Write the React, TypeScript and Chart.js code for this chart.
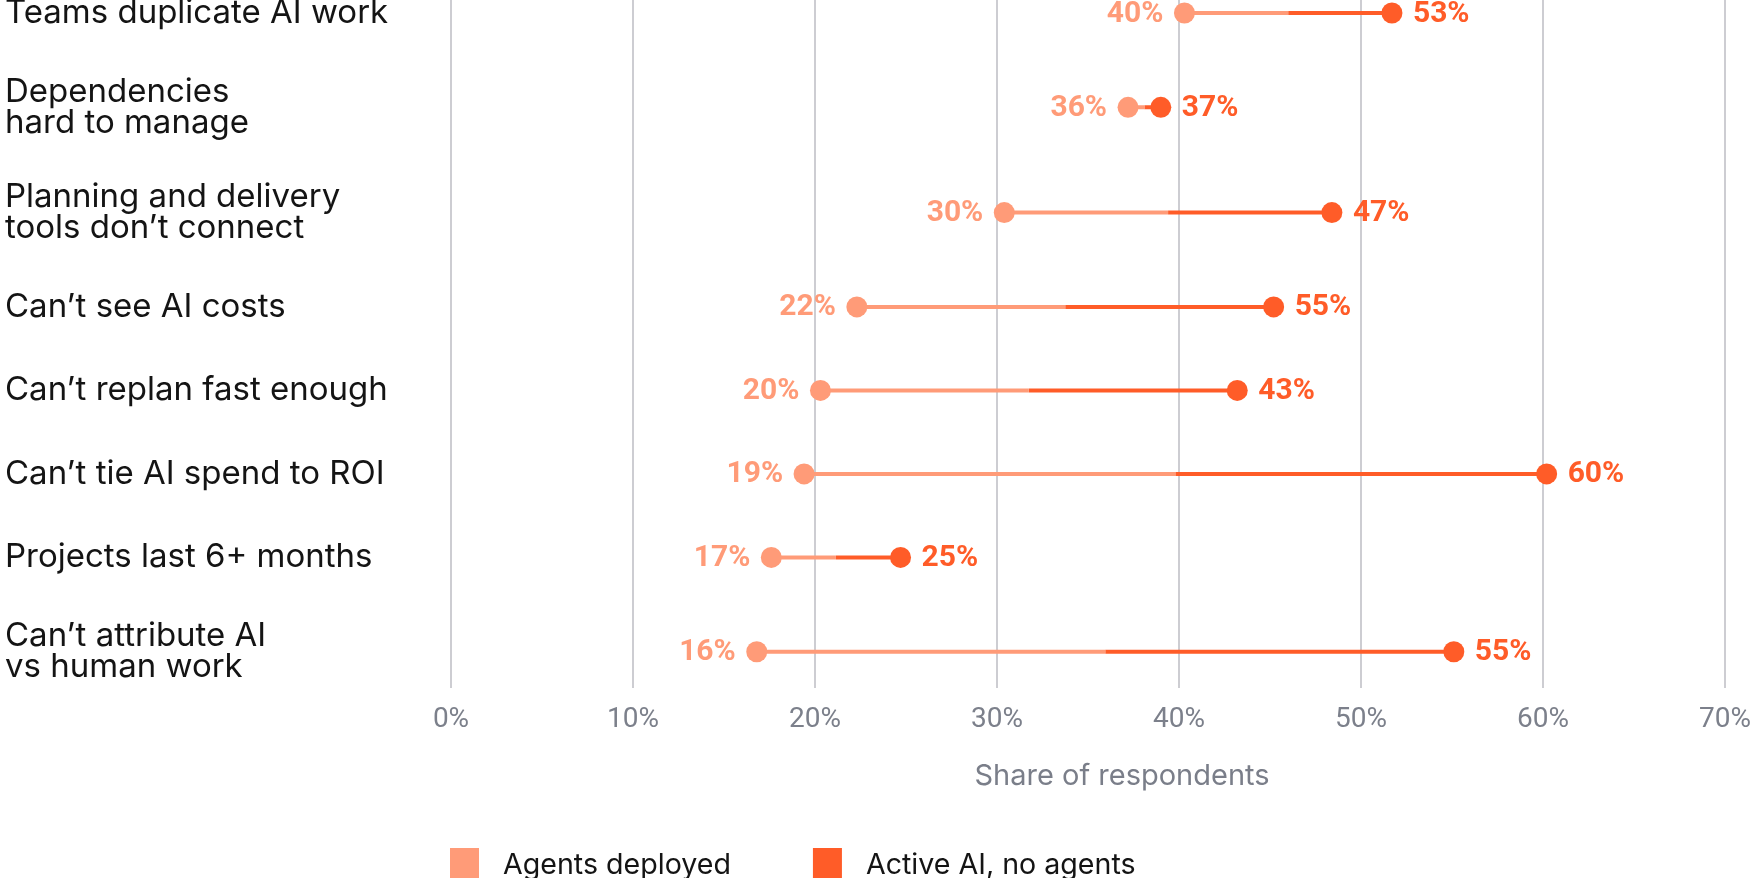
import { useEffect, useRef } from "react";
import { Chart, registerables } from "chart.js";
import type { Plugin } from "chart.js";

Chart.register(...registerables);

const categories: (string | string[])[] = [
  "Teams duplicate AI work",
  ["Dependencies", "hard to manage"],
  ["Planning and delivery", "tools don’t connect"],
  "Can’t see AI costs",
  "Can’t replan fast enough",
  "Can’t tie AI spend to ROI",
  "Projects last 6+ months",
  ["Can’t attribute AI", "vs human work"],
];

// where the dots sit on the axis (share of respondents, %)
const agentsDeployed = [40.3, 37.2, 30.4, 22.3, 20.3, 19.4, 17.6, 16.8];
const activeNoAgents = [51.7, 39.0, 48.4, 45.2, 43.2, 60.2, 24.7, 55.1];

// the percentages printed beside the dots
const agentsLabels = [40, 36, 30, 22, 20, 19, 17, 16];
const activeLabels = [53, 37, 47, 55, 43, 60, 25, 55];

const xTicks = [0, 10, 20, 30, 40, 50, 60, 70];
const seriesNames = ["Agents deployed", "Active AI, no agents"];
const axisTitle = "Share of respondents";

const LIGHT = "#FF9B78";
const DARK = "#FF5C28";
const GREY = "#7A7E89";
const INK = "#141414";

// rows with two-line labels get a little more room
const lineCount = categories.map((c) => (Array.isArray(c) ? c.length : 1));
const rowPos: number[] = [];
lineCount.forEach((n, i) => {
  rowPos.push(i === 0 ? 0 : rowPos[i - 1] + 1 + 0.13 * (lineCount[i - 1] - 1 + n - 1));
});

const gap = { x: NaN, y: NaN };
const mids = agentsDeployed.map((a, i) => (a + activeNoAgents[i]) / 2);
const lightHalf = rowPos.flatMap((y, i) => [{ x: agentsDeployed[i], y }, { x: mids[i], y }, gap]);
const darkHalf = rowPos.flatMap((y, i) => [{ x: mids[i], y }, { x: activeNoAgents[i], y }, gap]);

const valueLabels: Plugin<"scatter"> = {
  id: "valueLabels",
  afterDatasetsDraw(chart) {
    const ctx = chart.ctx;
    ctx.save();
    ctx.font = "bold 30px Roboto";
    ctx.textBaseline = "middle";
    chart.getDatasetMeta(2).data.forEach((pt, i) => {
      ctx.fillStyle = LIGHT;
      ctx.textAlign = "right";
      ctx.fillText(`${agentsLabels[i]}%`, pt.x - 21, pt.y + 1);
    });
    chart.getDatasetMeta(3).data.forEach((pt, i) => {
      ctx.fillStyle = DARK;
      ctx.textAlign = "left";
      ctx.fillText(`${activeLabels[i]}%`, pt.x + 21, pt.y + 1);
    });
    ctx.restore();
  },
};

const titleAndLegend: Plugin<"scatter"> = {
  id: "titleAndLegend",
  afterDraw(chart) {
    const { ctx, chartArea } = chart;
    ctx.save();
    ctx.textBaseline = "alphabetic";

    ctx.font = "29px Inter";
    ctx.fillStyle = GREY;
    ctx.textAlign = "center";
    ctx.fillText(axisTitle, (chartArea.left + chartArea.right) / 2 + 34, chartArea.bottom + 97);

    ctx.font = "28.6px Inter";
    ctx.textAlign = "left";
    let x = chartArea.left - 1;
    const top = chart.height - 30;
    [LIGHT, DARK].forEach((color, i) => {
      ctx.fillStyle = color;
      ctx.fillRect(x, top, 29, 30);
      ctx.fillStyle = INK;
      ctx.fillText(seriesNames[i], x + 53, top + 26);
      x += 53 + ctx.measureText(seriesNames[i]).width + 82;
    });
    ctx.restore();
  },
};

export default function App() {
  const canvasRef = useRef<HTMLCanvasElement>(null);

  useEffect(() => {
    document.body.style.margin = "0";
    if (!canvasRef.current) return;
    Chart.defaults.font.family = "Inter";

    const chart = new Chart(canvasRef.current, {
      type: "scatter",
      data: {
        datasets: [
          {
            data: lightHalf,
            showLine: true,
            borderColor: LIGHT,
            borderWidth: 4,
            borderCapStyle: "butt",
            pointRadius: 0,
            order: 1,
          },
          {
            data: darkHalf,
            showLine: true,
            borderColor: DARK,
            borderWidth: 4,
            borderCapStyle: "butt",
            pointRadius: 0,
            order: 1,
          },
          {
            label: seriesNames[0],
            data: rowPos.map((y, i) => ({ x: agentsDeployed[i], y })),
            backgroundColor: LIGHT,
            borderWidth: 0,
            pointRadius: 10.5,
            order: 0,
          },
          {
            label: seriesNames[1],
            data: rowPos.map((y, i) => ({ x: activeNoAgents[i], y })),
            backgroundColor: DARK,
            borderWidth: 0,
            pointRadius: 10.5,
            order: 0,
          },
        ],
      },
      options: {
        animation: false,
        responsive: true,
        maintainAspectRatio: false,
        events: [],
        layout: { autoPadding: false, padding: { left: 5, right: 25, top: 0, bottom: 85 } },
        plugins: {
          legend: { display: false },
          tooltip: { enabled: false },
        },
        scales: {
          x: {
            type: "linear",
            min: 0,
            max: 70,
            afterBuildTicks: (scale) => {
              scale.ticks = xTicks.map((value) => ({ value }));
            },
            afterFit: (scale) => {
              scale.height = 105;
              scale.paddingLeft = 0;
              scale.paddingRight = 0;
            },
            grid: { color: "#CDCDD2", lineWidth: 2, drawTicks: false },
            border: { display: false },
            ticks: {
              padding: 15,
              maxRotation: 0,
              color: "#7C808B",
              font: { family: "'Liberation Sans Narrow', Roboto", size: 28, weight: 400 },
              callback: (v) => `${v}%`,
            },
          },
          y: {
            type: "linear",
            reverse: true,
            min: -0.156,
            max: rowPos[rowPos.length - 1] + 0.434,
            afterBuildTicks: (scale) => {
              scale.ticks = rowPos.map((value) => ({ value }));
            },
            afterFit: (scale) => {
              scale.width = 446;
              scale.paddingTop = 0;
              scale.paddingBottom = 0;
            },
            grid: { display: false, drawTicks: false },
            border: { display: false },
            ticks: {
              autoSkip: false,
              crossAlign: "far",
              padding: 0,
              color: INK,
              font: { family: "Inter", size: 33, lineHeight: 0.94 },
              callback: (_v, i) => categories[i],
            },
          },
        },
      },
      plugins: [valueLabels, titleAndLegend],
    });

    return () => chart.destroy();
  }, []);

  return (
    <div style={{ position: "relative", width: 1750, height: 878, overflow: "hidden" }}>
      <canvas ref={canvasRef} />
    </div>
  );
}
